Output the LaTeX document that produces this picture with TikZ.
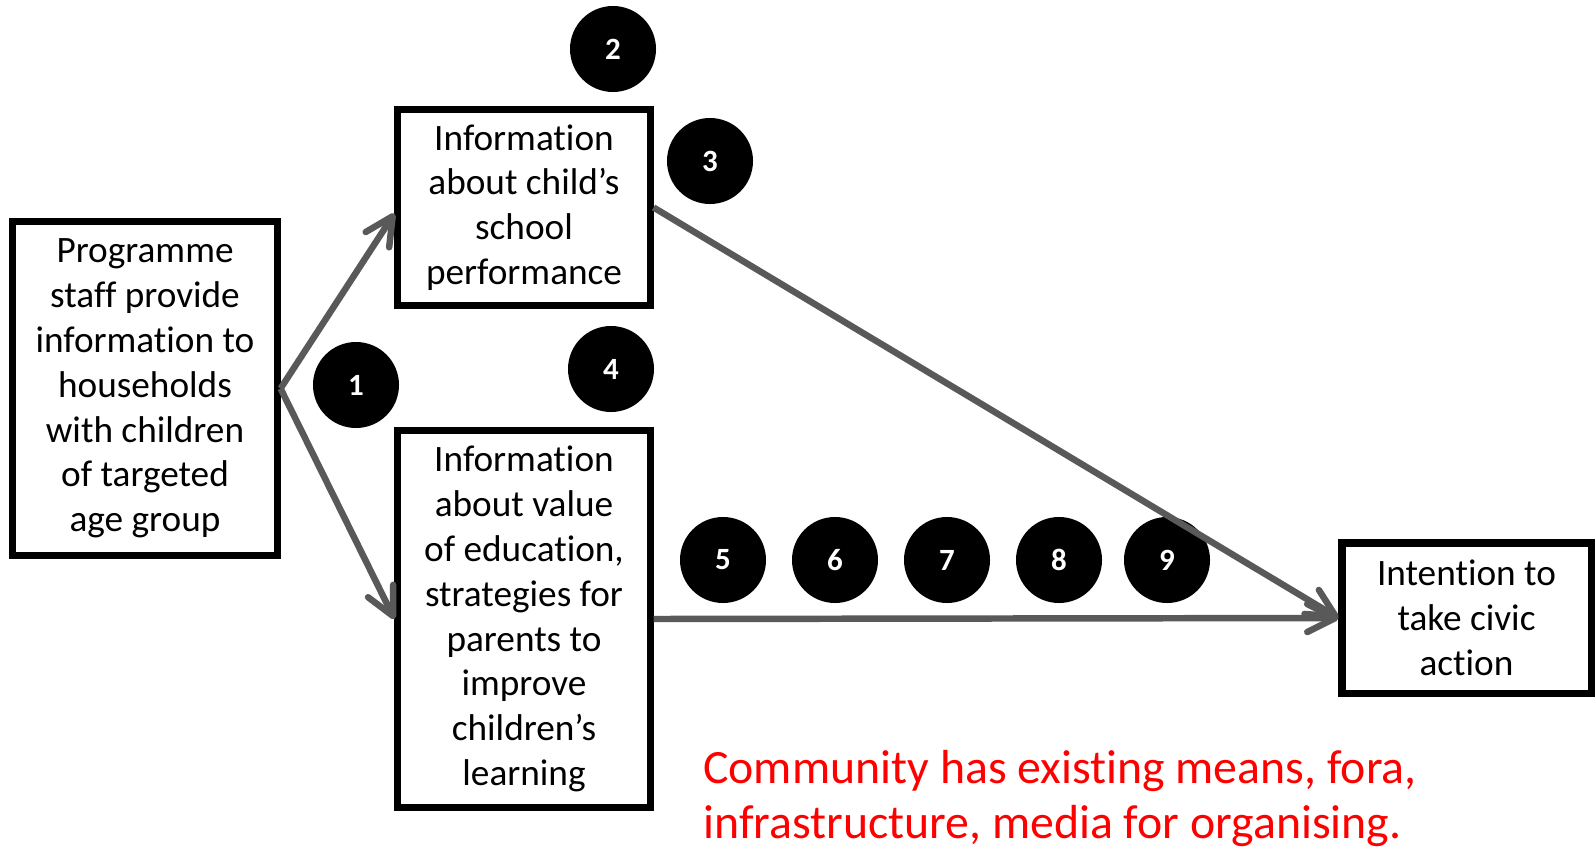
\documentclass[tikz,border=0pt]{standalone}
\usepackage{fontspec}
\setmainfont{Carlito}[Ligatures=NoCommon]
\usepackage{tikz}
\usetikzlibrary{arrows.meta}
\definecolor{arrowgrey}{HTML}{595959}

\begin{document}
\begin{tikzpicture}[x=0.025cm, y=-0.025cm,
	box/.style={draw, line width=5pt, align=center, inner sep=0pt,
		font=\fontsize{26.5}{31.9}\selectfont},
	num/.style={circle, fill=black, minimum size=2.15cm, inner sep=0pt,
		text=white, font=\fontsize{22}{24}\selectfont\bfseries},
	link/.style={draw=arrowgrey, line width=4.6pt,
		-{Straight Barb[length=0.7cm,width=0.7cm,round]}}]
\useasboundingbox (0,0) rectangle (1596,848);

\node[box, minimum width=6.6cm, minimum height=8.325cm] (prog) at (145,388.5)
	{Programme\\staff provide\\information to\\households\\with children\\of targeted\\age group};
\node[box, minimum width=6.3cm, minimum height=4.875cm] (perf) at (524,207.5)
	{Information\\about child’s\\school\\performance};
\node[box, minimum width=6.3cm, minimum height=9.4cm] (value) at (524,619)
	{Information\\about value\\of education,\\strategies for\\parents to\\improve\\children’s\\learning};
\node[box, minimum width=6.225cm, minimum height=3.75cm] (civic) at (1466.5,618)
	{Intention to\\take civic\\action};

% numbered markers
\node[num] (n1) at (356,385) {1};
\node[num] (n2) at (613,49) {2};
\node[num] (n3) at (710,161) {3};
\node[num] (n4) at (611,369) {4};
\foreach \i/\x in {5/723,6/835,7/947,8/1059,9/1167}
	\node[num] (n\i) at (\x,560) {\i};

\node[text=red, align=left, anchor=north west, inner sep=0pt,
	font=\fontsize{34}{39}\selectfont] (note) at (703,750)
	{Community has existing means, fora,\\infrastructure, media for organising.};

\draw[link] (prog.east) -- ([yshift=-0.15cm]perf.west);
\draw[link] (prog.east) -- (value.west);
\draw[link] (perf.east) -- (civic.west);
\draw[link] (value.east) -- (civic.west);
\end{tikzpicture}
\end{document}
